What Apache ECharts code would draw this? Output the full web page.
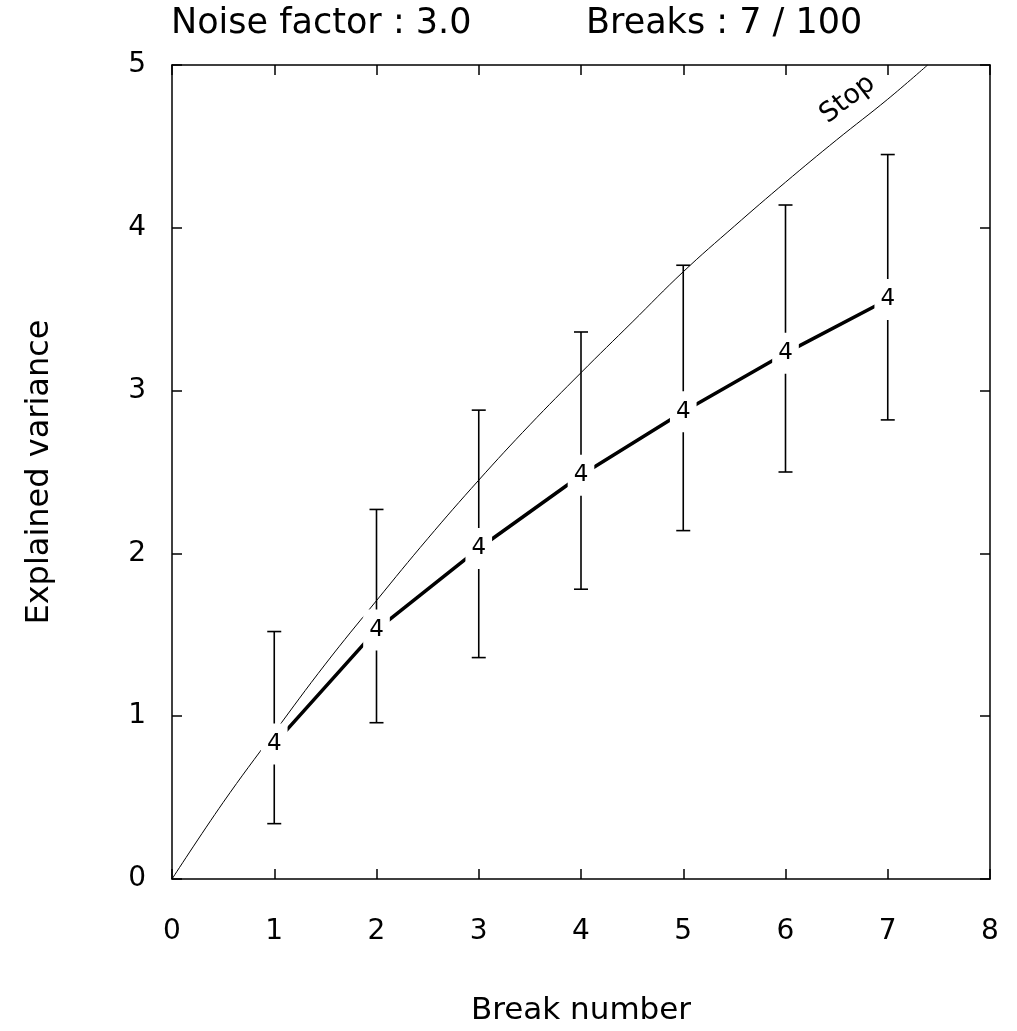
<!DOCTYPE html>
<html>
<head>
<meta charset="utf-8">
<script src="https://cdn.jsdelivr.net/npm/echarts@6/dist/echarts.min.js"></script>
<style>html,body{margin:0;padding:0;background:#fff;}#chart{width:1017px;height:1031px;}</style>
</head>
<body>
<div id="chart"></div>
<script>
// ---- data ----
const breaks = [1, 2, 3, 4, 5, 6, 7];
const meanVar = [0.83, 1.53, 2.03, 2.48, 2.87, 3.23, 3.56];
const upperVar = [1.52, 2.27, 2.88, 3.36, 3.77, 4.14, 4.45];
const lowerVar = [0.34, 0.96, 1.36, 1.78, 2.14, 2.50, 2.82];
const stopX = [0, 0.5, 1, 1.5, 2, 2.5, 3, 3.5, 4, 4.5, 5, 5.5, 6, 6.5, 7, 7.39];
const stopY = [0, 0.47, 0.90, 1.32, 1.71, 2.09, 2.45, 2.79, 3.11, 3.42, 3.73, 4.01, 4.28, 4.54, 4.79, 5.0];
const markerText = '4';
const stopLabelText = 'Stop';
const topLeftText = 'Noise factor : 3.0';
const topRightText = 'Breaks : 7 / 100';
const xTitle = 'Break number';
const yTitle = 'Explained variance';

const FONT = 'DejaVu Sans';
const chart = echarts.init(document.getElementById('chart'), null, {renderer: 'canvas'});

const stopData = stopX.map((x, i) => [x, stopY[i]]);
const meanData = breaks.map((x, i) => [x, meanVar[i]]);
const errData = breaks.map((x, i) => [x, lowerVar[i], upperVar[i]]);

const axisCommon = {
  type: 'value',
  axisLine: {show: true, onZero: false, lineStyle: {color: '#000', width: 1.5}},
  axisTick: {show: true, inside: true, length: 10, lineStyle: {color: '#000', width: 1.5}},
  splitLine: {show: false}
};

const option = {
  backgroundColor: '#fff',
  animation: false,
  title: [
    {text: topLeftText, left: 166, top: 1, textStyle: {fontFamily: FONT, fontSize: 35, fontWeight: 'normal', color: '#000'}},
    {text: topRightText, left: 581, top: 1, textStyle: {fontFamily: FONT, fontSize: 35, fontWeight: 'normal', color: '#000'}}
  ],
  grid: {left: 172, right: 27, top: 65, bottom: 151},
  xAxis: [
    Object.assign({}, axisCommon, {
      position: 'bottom', min: 0, max: 8, interval: 1,
      name: xTitle, nameLocation: 'middle', nameGap: 116,
      nameTextStyle: {fontFamily: FONT, fontSize: 31, color: '#000'},
      axisLabel: {show: true, margin: 39, fontFamily: FONT, fontSize: 28, color: '#000'}
    }),
    Object.assign({}, axisCommon, {
      position: 'top', min: 0, max: 8, interval: 1,
      axisLabel: {show: false}
    })
  ],
  yAxis: [
    Object.assign({}, axisCommon, {
      position: 'left', min: 0, max: 5, interval: 1,
      name: yTitle, nameLocation: 'middle', nameGap: 116,
      nameTextStyle: {fontFamily: FONT, fontSize: 32, color: '#000'},
      axisLabel: {show: true, margin: 26, fontFamily: FONT, fontSize: 28, color: '#000'}
    }),
    Object.assign({}, axisCommon, {
      position: 'right', min: 0, max: 5, interval: 1,
      axisLabel: {show: false}
    })
  ],
  series: [
    {
      type: 'line',
      data: stopData,
      smooth: 0.4,
      symbol: 'none',
      clip: true,
      z: 2,
      lineStyle: {color: '#000', width: 1},
      markPoint: {
        symbol: 'circle', symbolSize: 0,
        itemStyle: {opacity: 1},
        data: [{coord: [6.72, 4.65], value: stopLabelText}],
        label: {
          show: true, formatter: stopLabelText, position: 'inside',
          rotate: 38, offset: [5, -25],
          fontFamily: FONT, fontSize: 27, color: '#000'
        }
      }
    },
    {
      type: 'line',
      data: meanData,
      symbol: 'none',
      z: 3,
      lineStyle: {color: '#000', width: 3.5}
    },
    {
      type: 'custom',
      data: errData,
      z: 3,
      renderItem: function (params, api) {
        const x = api.value(0);
        const lo = api.coord([x, api.value(1)]);
        const hi = api.coord([x, api.value(2)]);
        const w = 7;
        const st = {stroke: '#000', lineWidth: 1.6};
        return {
          type: 'group',
          children: [
            {type: 'line', shape: {x1: lo[0], y1: lo[1], x2: hi[0], y2: hi[1]}, style: st},
            {type: 'line', shape: {x1: lo[0] - w, y1: lo[1], x2: lo[0] + w, y2: lo[1]}, style: st},
            {type: 'line', shape: {x1: hi[0] - w, y1: hi[1], x2: hi[0] + w, y2: hi[1]}, style: st}
          ]
        };
      }
    },
    {
      type: 'scatter',
      data: meanData,
      symbolSize: 1,
      z: 10,
      itemStyle: {color: '#fff', opacity: 1},
      emphasis: {disabled: true},
      label: {
        show: true, position: 'inside', formatter: markerText,
        backgroundColor: '#fff', padding: [9, 6],
        fontFamily: FONT, fontSize: 23, color: '#000'
      }
    }
  ]
};
chart.setOption(option);
</script>
</body>
</html>
